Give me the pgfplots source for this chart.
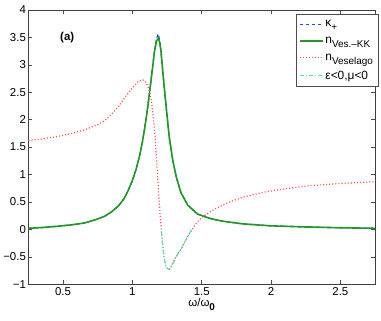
\documentclass[border=0pt]{standalone}
\usepackage{fontspec}
\setmainfont{Liberation Sans}
\usepackage{pgfplots}
\pgfplotsset{compat=1.18}
\definecolor{cgreen}{RGB}{30,155,30}
\definecolor{cblue}{RGB}{40,70,255}
\definecolor{cred}{RGB}{255,80,80}
\definecolor{ccyan}{RGB}{70,235,170}
\begin{document}
\begin{tikzpicture}
\begin{axis}[
  name=ax,
  scale only axis,
  width=347.5bp, height=275bp,
  xmin=0.25, xmax=2.75, ymin=-1, ymax=4,
  xtick={0.5,1,1.5,2,2.5},
  xticklabels={0.5,1,1.5,2,2.5},
  ytick={-1,-0.5,0,0.5,1,1.5,2,2.5,3,3.5,4},
  yticklabels={−1,−0.5,0,0.5,1,1.5,2,2.5,3,3.5,4},
  tick align=inside,
  major tick length=4bp,
  tick style={black!70, line width=0.5pt},
  axis line style={black!75, line width=0.6pt},
  ticklabel style={font=\fontsize{11.5}{13}\selectfont},
  yticklabel style={xshift=1bp},
  xlabel={ω/ω\raisebox{-0.5ex}{\fontsize{10}{12}\selectfont\textbf{0}}},
  xlabel style={font=\fontsize{11.5}{13}\selectfont, yshift=4bp},
  legend style={at={(1.009,0.985)}, anchor=north east, draw=black!70,
     font=\fontsize{12}{14}\selectfont, row sep=5bp, inner xsep=3bp, inner ysep=4bp, cells={anchor=west}},
  legend image code/.code={\draw[#1] (0bp,0bp) -- (23bp,0bp);},
  clip=true,
]
\addplot[cblue, line width=1.2pt, dash pattern=on 3.5bp off 2.5bp] coordinates {
(0.25,0.02)(0.35,0.035)(0.45,0.055)(0.55,0.08)(0.65,0.115)(0.70,0.15)(0.75,0.19)(0.80,0.24)(0.85,0.32)(0.90,0.43)(0.94,0.56)(0.97,0.71)(1.00,0.89)(1.025,1.08)(1.05,1.32)(1.07,1.56)(1.09,1.86)(1.11,2.22)(1.135,2.74)(1.16,3.27)(1.175,3.49)(1.187,3.56)(1.20,3.40)(1.22,2.88)(1.235,2.46)(1.25,2.08)(1.265,1.70)(1.29,1.28)(1.315,0.97)(1.35,0.67)(1.40,0.44)(1.47,0.28)(1.56,0.20)(1.65,0.15)(1.8,0.10)(2.0,0.065)(2.25,0.045)(2.5,0.03)(2.75,0.02)
};
\addlegendentry{κ\raisebox{-0.6ex}{\fontsize{10}{12}\selectfont +}}
\addplot[cgreen, line width=1.6pt] coordinates {
(0.25,0.02)(0.35,0.035)(0.45,0.055)(0.55,0.08)(0.65,0.115)(0.70,0.15)(0.75,0.19)(0.80,0.24)(0.85,0.32)(0.90,0.43)(0.94,0.56)(0.97,0.71)(1.00,0.89)(1.025,1.08)(1.05,1.32)(1.07,1.56)(1.09,1.86)(1.11,2.22)(1.135,2.72)(1.16,3.25)(1.175,3.44)(1.19,3.49)(1.205,3.28)(1.22,2.86)(1.235,2.45)(1.25,2.08)(1.265,1.70)(1.29,1.28)(1.315,0.97)(1.35,0.67)(1.40,0.44)(1.47,0.28)(1.56,0.20)(1.65,0.15)(1.8,0.10)(2.0,0.065)(2.25,0.045)(2.5,0.03)(2.75,0.02)
};
\addlegendentry{n\raisebox{-0.6ex}{\fontsize{10}{12}\selectfont Ves.–KK}}
\addplot[cred, line width=1.2pt, dash pattern=on 1.1bp off 2bp] coordinates {
(0.25,1.62)(0.35,1.65)(0.45,1.69)(0.55,1.74)(0.65,1.81)(0.75,1.91)(0.80,1.98)(0.85,2.10)(0.90,2.24)(0.95,2.42)(1.00,2.58)(1.04,2.69)(1.07,2.73)(1.09,2.71)(1.11,2.62)(1.125,2.50)(1.14,2.30)(1.15,2.05)(1.16,1.80)(1.17,1.45)(1.18,1.05)(1.19,0.65)(1.20,0.28)(1.21,-0.05)(1.22,-0.32)(1.23,-0.53)(1.24,-0.66)(1.255,-0.72)(1.265,-0.73)(1.28,-0.68)(1.31,-0.52)(1.36,-0.32)(1.40,-0.12)(1.43,0.00)(1.46,0.11)(1.50,0.22)(1.55,0.30)(1.60,0.38)(1.70,0.50)(1.80,0.59)(1.95,0.68)(2.10,0.74)(2.25,0.79)(2.45,0.83)(2.60,0.85)(2.75,0.87)
};
\addlegendentry{n\raisebox{-0.6ex}{\fontsize{10}{12}\selectfont Veselago}}
\addplot[ccyan, line width=1.2pt, dash pattern=on 4bp off 2bp on 1bp off 2bp] coordinates {
(1.21,-0.05)(1.22,-0.32)(1.23,-0.53)(1.24,-0.66)(1.255,-0.72)(1.265,-0.73)(1.28,-0.68)(1.31,-0.52)(1.36,-0.32)(1.40,-0.12)(1.43,0.00)
};
\addlegendentry{ε<0,μ<0}
\node[font=\bfseries\fontsize{11.5}{13}\selectfont] at (axis cs:0.53,3.5) {(a)};
\end{axis}
\path[use as bounding box] ([shift={(-27.5bp,-36bp)}]ax.south west) rectangle ([shift={(6bp,10bp)}]ax.north east);
\end{tikzpicture}
\end{document}
